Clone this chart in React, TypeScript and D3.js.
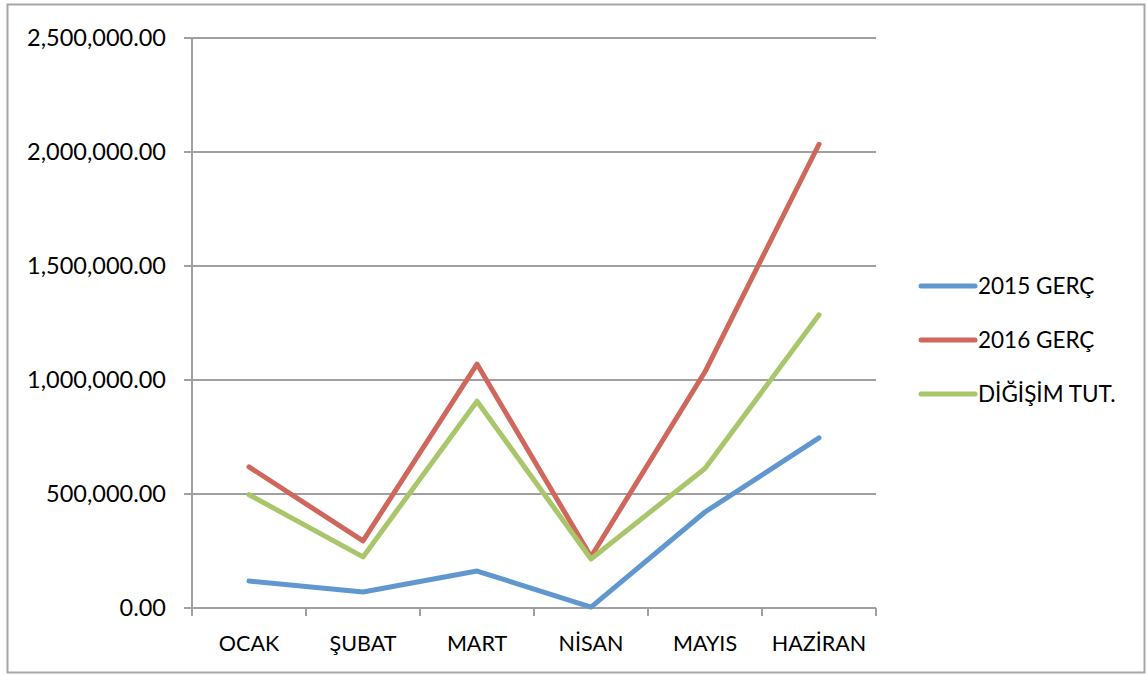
import React, { useEffect, useRef } from "react";
import * as d3 from "d3";

// chart data
const months = ["OCAK", "ŞUBAT", "MART", "NİSAN", "MAYIS", "HAZİRAN"];
const gerc2015 = [118000, 70000, 162000, 4000, 421000, 746000];
const gerc2016 = [619000, 294000, 1070000, 225000, 1036000, 2034000];
const degisim = [497000, 224000, 907000, 215000, 612000, 1286000];
const seriesNames = ["2015 GERÇ", "2016 GERÇ", "DİĞİŞİM TUT."];
const seriesColors = ["#5f97ce", "#cf675c", "#a9c66a"];
const yTicks = [0, 500000, 1000000, 1500000, 2000000, 2500000];

const W = 1148;
const H = 675;
const margin = { left: 192, right: 272, top: 38, bottom: 67 };

export default function App() {
  const svgRef = useRef<SVGSVGElement>(null);

  useEffect(() => {
    const svg = d3.select(svgRef.current);
    svg.selectAll("*").remove();
    const font = "Lato, 'Open Sans', sans-serif";

    // outer frame
    svg.append("rect")
      .attr("x", 7.5).attr("y", 4.5)
      .attr("width", 1137).attr("height", 668)
      .attr("fill", "#fff")
      .attr("stroke", "#a6a6a6")
      .attr("stroke-width", 2);

    const x = d3.scaleBand()
      .domain(months)
      .range([margin.left, W - margin.right]);
    const y = d3.scaleLinear()
      .domain([0, 2500000])
      .range([H - margin.bottom, margin.top]);

    // gridlines
    svg.append("g")
      .selectAll("line")
      .data(yTicks)
      .join("line")
      .attr("x1", margin.left - 8)
      .attr("x2", W - margin.right)
      .attr("y1", d => y(d))
      .attr("y2", d => y(d))
      .attr("stroke", "#a0a0a0")
      .attr("stroke-width", 2);

    // y axis line
    svg.append("line")
      .attr("x1", margin.left).attr("x2", margin.left)
      .attr("y1", y(2500000)).attr("y2", y(0) + 8)
      .attr("stroke", "#a0a0a0")
      .attr("stroke-width", 2);

    // x axis ticks at category borders
    const borders = months.map(m => x(m) as number).concat([W - margin.right]);
    svg.append("g")
      .selectAll("line")
      .data(borders)
      .join("line")
      .attr("x1", d => d).attr("x2", d => d)
      .attr("y1", y(0)).attr("y2", y(0) + 8)
      .attr("stroke", "#a0a0a0")
      .attr("stroke-width", 2);

    // y labels
    const fmt = d3.format(",.2f");
    svg.append("g")
      .selectAll("text")
      .data(yTicks)
      .join("text")
      .attr("x", 166)
      .attr("y", d => y(d))
      .attr("dy", "0.36em")
      .attr("text-anchor", "end")
      .attr("font-family", font)
      .attr("font-size", 23.5)
      .attr("fill", "#000")
      .text(d => fmt(d));

    // x labels
    svg.append("g")
      .selectAll("text")
      .data(months)
      .join("text")
      .attr("x", d => (x(d) as number) + x.bandwidth() / 2)
      .attr("y", 651)
      .attr("text-anchor", "middle")
      .attr("font-family", font)
      .attr("font-size", 21.5)
      .attr("fill", "#000")
      .text(d => d);

    // lines
    const allSeries = [gerc2015, gerc2016, degisim];
    const line = d3.line<number>()
      .x((d, i) => (x(months[i]) as number) + x.bandwidth() / 2)
      .y(d => y(d));

    svg.append("g")
      .selectAll("path")
      .data(allSeries)
      .join("path")
      .attr("d", d => line(d))
      .attr("fill", "none")
      .attr("stroke", (d, i) => seriesColors[i])
      .attr("stroke-width", 5)
      .attr("stroke-linecap", "round")
      .attr("stroke-linejoin", "round");

    // legend
    const legend = svg.append("g")
      .selectAll("g")
      .data(seriesNames)
      .join("g")
      .attr("transform", (d, i) => `translate(921, ${286 + i * 54})`);
    legend.append("line")
      .attr("x1", 0).attr("x2", 54)
      .attr("stroke", (d, i) => seriesColors[i])
      .attr("stroke-width", 5)
      .attr("stroke-linecap", "round");
    legend.append("text")
      .attr("x", 57)
      .attr("dy", "0.36em")
      .attr("font-family", font)
      .attr("font-size", 22.5)
      .attr("fill", "#000")
      .text(d => d);
  }, []);

  return (
    <svg
      ref={svgRef}
      width={W}
      height={H}
      style={{ position: "absolute", left: 0, top: 0, background: "#fff" }}
    />
  );
}
